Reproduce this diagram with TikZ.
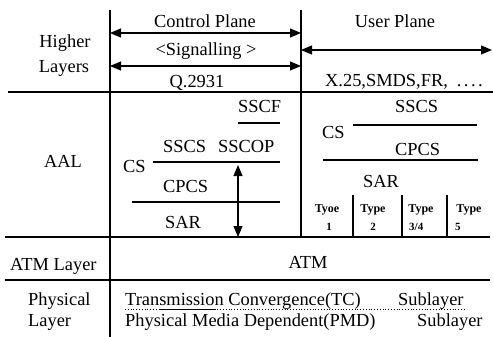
\documentclass[tikz,border=0pt]{standalone}
\usepackage{fontspec}
\setmainfont{Liberation Serif}
\usetikzlibrary{arrows.meta}
\begin{document}
\begin{tikzpicture}[x=1pt,y=-1pt,
  lbl/.style={inner sep=0pt, font=\fontsize{18.4}{20}\selectfont},
  typelbl/.style={inner sep=0pt, font=\fontsize{12}{13}\selectfont\bfseries},
  numlbl/.style={inner sep=0pt, font=\fontsize{11}{12}\selectfont\bfseries},
  rule/.style={line width=1.5pt},
  subrule/.style={line width=1.2pt},
  tip/.tip={Triangle[length=11pt,width=9pt]},
  arr/.style={line width=1.2pt, tip-tip}
]
\useasboundingbox (0,0) rectangle (493,337);

% ---- frame of the protocol stack ----
\draw[rule] (110,10) -- (110,337);
\draw[rule] (301,10) -- (301,237);
\draw[rule] (8,92) -- (493,92);
\draw[rule] (5,237) -- (490,237);
\draw[rule] (5,280) -- (490,280);

% ---- layer names ----
\node[lbl, anchor=base] (hl1) at (65,48) {Higher};
\node[lbl, anchor=base] (hl2) at (64,73) {Layers};
\node[lbl, anchor=base] (aal) at (63,167) {AAL};
\node[lbl, anchor=base west] (atml) at (10,270) {ATM Layer};
\node[lbl, anchor=base west] (phy1) at (28,305) {Physical};
\node[lbl, anchor=base west] (phy2) at (28,326) {Layer};

% ---- higher layers: control and user plane ----
\node[lbl, anchor=base] (cplane) at (205,28) {Control Plane};
\node[lbl, anchor=base] (sig) at (206,56) {<Signalling >};
\node[lbl, anchor=base] (q2931) at (197,88) {Q.2931};
\node[lbl, anchor=base] (uplane) at (395,28) {User Plane};
\node[lbl, anchor=base west] (xsmds) at (325,87)
  {X.25,SMDS,FR,\hspace{9pt}.\hspace{2.5pt}.\hspace{2.5pt}.\hspace{2.5pt}.};

\coordinate (c1l) at (110,33);  \coordinate (c1r) at (301,33);
\coordinate (c2l) at (110,66);  \coordinate (c2r) at (301,66);
\coordinate (ul)  at (301,50);  \coordinate (ur)  at (492,50);
\draw[arr] (c1l) -- (c1r);
\draw[arr] (c2l) -- (c2r);
\draw[arr] (ul) -- (ur);

% ---- AAL, control plane side ----
\node[lbl, anchor=base west] (sscf) at (238,112) {SSCF};
\node[lbl, anchor=base west] (sscsL) at (163,152) {SSCS};
\node[lbl, anchor=base west] (sscop) at (218,152) {SSCOP};
\node[lbl, anchor=base west] (csL) at (123,172) {CS};
\node[lbl, anchor=base west] (cpcsL) at (163,192) {CPCS};
\node[lbl, anchor=base west] (sarL) at (165,228) {SAR};
\draw[subrule] (238,123) -- (280,123);
\draw[subrule] (153,162) -- (280,162);
\draw[subrule] (132,202) -- (280,202);
\coordinate (vt) at (238,165); \coordinate (vb) at (238,237);
\draw[arr] (vt) -- (vb);

% ---- AAL, user plane side ----
\node[lbl, anchor=base west] (sscsR) at (395,112) {SSCS};
\node[lbl, anchor=base west] (csR) at (322,138) {CS};
\node[lbl, anchor=base west] (cpcsR) at (395,155) {CPCS};
\node[lbl, anchor=base west] (sarR) at (363,187) {SAR};
\draw[subrule] (353,125) -- (477,125);
\draw[subrule] (323,160) -- (478,160);
\foreach \x in {353,402,447} \draw[subrule] (\x,195) -- (\x,237);
\node[typelbl, anchor=base] (t1) at (327,212) {Tyoe};
\node[typelbl, anchor=base] (t2) at (373,212) {Type};
\node[typelbl, anchor=base] (t3) at (421,212) {Type};
\node[typelbl, anchor=base] (t4) at (469,212) {Type};
\node[numlbl, anchor=base] (n1) at (329,230) {1};
\node[numlbl, anchor=base] (n2) at (373,230) {2};
\node[numlbl, anchor=base west] (n3) at (409,230) {3/4};
\node[numlbl, anchor=base west] (n4) at (455,230) {5};

% ---- ATM layer ----
\node[lbl, anchor=base] (atm) at (308,268) {ATM};

% ---- physical layer ----
\node[lbl, anchor=base west] (tc) at (125,305) {Transmission Convergence(TC)};
\node[lbl, anchor=base west] (tcs) at (398,305) {Sublayer};
\node[lbl, anchor=base west] (pmd) at (125,326) {Physical Media Dependent(PMD)};
\node[lbl, anchor=base west] (pmds) at (417,326) {Sublayer};
\draw[line width=0.8pt, dotted] (125,309) -- (465,309);
\draw[line width=0.9pt] (160,309) -- (215,309);
\end{tikzpicture}
\end{document}
